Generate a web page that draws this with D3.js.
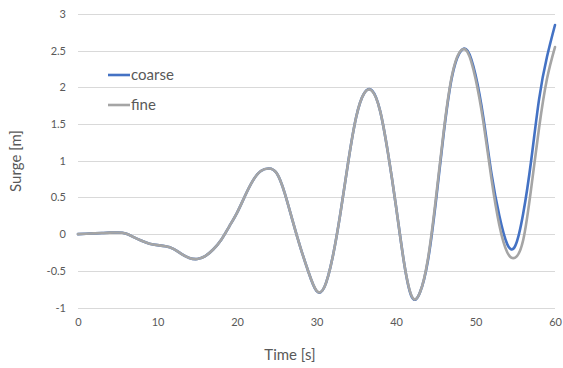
<!DOCTYPE html>
<html>
<head>
<meta charset="utf-8">
<script src="https://cdn.jsdelivr.net/npm/d3@7"></script>
<style>
  html, body { margin: 0; padding: 0; background: #fff; }
  svg text { font-family: Lato, "Open Sans", sans-serif; fill: #595959; }
</style>
</head>
<body>
<svg id="chart" width="563" height="368"></svg>
<script>
// Surge response sampled once per second, two mesh resolutions
const time = d3.range(0, 61);
const coarseSurge = [
  0.00, 0.005, 0.01, 0.015, 0.02, 0.022, 0.01, -0.04, -0.09, -0.13,
  -0.15, -0.165, -0.20, -0.27, -0.325, -0.34, -0.30, -0.21, -0.08, 0.10,
  0.29, 0.52, 0.73, 0.86, 0.895, 0.83, 0.56, 0.18, -0.19, -0.52,
  -0.775, -0.72, -0.33, 0.28, 0.99, 1.60, 1.92, 1.955, 1.68, 1.10,
  0.38, -0.38, -0.86, -0.80, -0.37, 0.43, 1.37, 2.12, 2.47, 2.50,
  2.17, 1.58, 0.83, 0.25, -0.14, -0.16, 0.28, 1.00, 1.84, 2.42,
  2.85
];
const fineSurge = [
  0.00, 0.005, 0.01, 0.015, 0.02, 0.022, 0.01, -0.04, -0.09, -0.13,
  -0.15, -0.165, -0.20, -0.27, -0.325, -0.34, -0.30, -0.21, -0.08, 0.10,
  0.29, 0.52, 0.73, 0.86, 0.895, 0.83, 0.56, 0.18, -0.19, -0.52,
  -0.77, -0.72, -0.33, 0.28, 0.99, 1.60, 1.92, 1.95, 1.68, 1.10,
  0.38, -0.38, -0.85, -0.80, -0.35, 0.47, 1.40, 2.14, 2.48, 2.48,
  2.12, 1.52, 0.76, 0.12, -0.25, -0.32, -0.08, 0.62, 1.45, 2.12,
  2.55
];

const xTicks = [0, 10, 20, 30, 40, 50, 60];
const yTicks = [-1, -0.5, 0, 0.5, 1, 1.5, 2, 2.5, 3];
const seriesNames = ["coarse", "fine"];
const seriesColors = ["#4472C4", "#A5A5A5"];

const svg = d3.select("#chart");
const plot = { left: 78, right: 555, top: 14, bottom: 307.5 };

const x = d3.scaleLinear().domain([0, 60]).range([plot.left, plot.right]);
const y = d3.scaleLinear().domain([-1, 3]).range([plot.bottom, plot.top]);

// horizontal gridlines
svg.append("g")
  .selectAll("line")
  .data(yTicks)
  .join("line")
  .attr("x1", plot.left).attr("x2", plot.right)
  .attr("y1", d => Math.round(y(d)) + 0.5).attr("y2", d => Math.round(y(d)) + 0.5)
  .attr("stroke", "#d9d9d9").attr("stroke-width", 1);

// y axis labels
const yAxis = d3.axisLeft(y).tickValues(yTicks).tickSize(0).tickPadding(12)
  .tickFormat(d => String(d));
svg.append("g")
  .attr("transform", `translate(${plot.left},0)`)
  .call(yAxis)
  .call(g => g.select(".domain").remove())
  .call(g => g.selectAll("text").style("font-family", "Lato, sans-serif").attr("font-size", 11).attr("fill", "#595959"));

// x axis labels
const xAxis = d3.axisBottom(x).tickValues(xTicks).tickSize(0).tickPadding(11)
  .tickFormat(d => String(d));
svg.append("g")
  .attr("transform", `translate(0,${plot.bottom})`)
  .call(xAxis)
  .call(g => g.select(".domain").remove())
  .call(g => g.selectAll("text").style("font-family", "Lato, sans-serif").attr("font-size", 11).attr("fill", "#595959"));

// axis titles
svg.append("text")
  .attr("x", 290).attr("y", 360)
  .attr("text-anchor", "middle")
  .attr("font-size", 15)
  .text("Time [s]");

svg.append("text")
  .attr("transform", "translate(21,161) rotate(-90)")
  .attr("text-anchor", "middle")
  .attr("font-size", 15)
  .text("Surge [m]");

// series lines: smooth natural spline through the samples
const line = d3.line()
  .x(d => x(d[0]))
  .y(d => y(d[1]))
  .curve(d3.curveNatural);

const series = [
  d3.zip(time, coarseSurge),
  d3.zip(time, fineSurge)
];

svg.append("g")
  .selectAll("path")
  .data(series)
  .join("path")
  .attr("d", line)
  .attr("fill", "none")
  .attr("stroke", (d, i) => seriesColors[i])
  .attr("stroke-width", 2.6)
  .attr("stroke-linejoin", "round")
  .attr("stroke-linecap", "round");

// legend
const legend = svg.append("g")
  .selectAll("g")
  .data(seriesNames)
  .join("g")
  .attr("transform", (d, i) => `translate(108,${75 + i * 30})`);

legend.append("line")
  .attr("x1", 0).attr("x2", 22)
  .attr("y1", 0).attr("y2", 0)
  .attr("stroke", (d, i) => seriesColors[i])
  .attr("stroke-width", 2.6);

legend.append("text")
  .attr("x", 23).attr("y", 0)
  .attr("dy", "0.35em")
  .attr("font-size", 15)
  .text(d => d);
</script>
</body>
</html>
